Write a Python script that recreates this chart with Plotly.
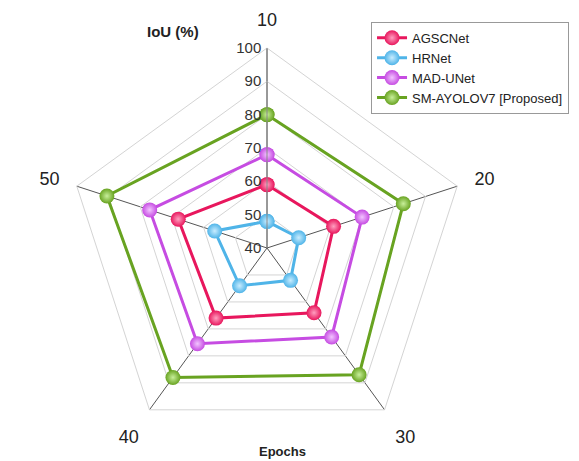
import plotly.graph_objects as go

epochs = ["10", "20", "30", "40", "50"]
agscnet = [59, 61, 64, 66, 68]
hrnet = [48, 50, 52, 54, 56.5]
mad_unet = [68, 70, 73, 75.5, 77]
sm_ayolov7 = [80, 83, 87, 88, 90.5]

series = [
    ("AGSCNet", agscnet, "#e8175d", "#ff9fc0"),
    ("HRNet", hrnet, "#4fb4e8", "#c8ecff"),
    ("MAD-UNet", mad_unet, "#c64ce2", "#f2c4ff"),
    ("SM-AYOLOV7 [Proposed]", sm_ayolov7, "#68a321", "#c8ef9a"),
]

fig = go.Figure()
for name, vals, col, light in series:
    fig.add_trace(go.Scatterpolar(
        r=vals + vals[:1],
        theta=epochs + epochs[:1],
        name=name,
        mode="lines+markers",
        line=dict(color=col, width=3),
        marker=dict(size=15, color=col,
                    gradient=dict(type="radial", color=light)),
    ))

W, H = 579, 461
# page body has an 8px margin; positions below are in figure pixels
cx, cy, R = 259, 240, 200
fig.update_layout(
    width=W, height=H,
    margin=dict(l=0, r=0, t=0, b=0),
    paper_bgcolor="white",
    font=dict(family="Arial, Liberation Sans, sans-serif", color="#222"),
    polar=dict(
        domain=dict(x=[(cx - R) / W, (cx + R) / W],
                    y=[(H - (cy + R)) / H, (H - (cy - R)) / H]),
        gridshape="linear",
        bgcolor="white",
        radialaxis=dict(range=[40, 100], dtick=10, angle=90,
                        tickangle=90, side="counterclockwise",
                        showline=True, linecolor="#888", linewidth=1,
                        gridcolor="#d4d4d4", gridwidth=1,
                        tickfont=dict(size=15, color="#333"),
                        ticks=""),
        angularaxis=dict(direction="clockwise", rotation=90,
                         showline=True, linecolor="#d4d4d4", linewidth=1,
                         gridcolor="#555", gridwidth=1,
                         ticks="outside", ticklen=14,
                         tickcolor="rgba(0,0,0,0)",
                         tickfont=dict(size=18, color="#222")),
    ),
    legend=dict(x=0.627, y=0.97, xanchor="left", yanchor="top",
                bgcolor="white", bordercolor="#999", borderwidth=1,
                font=dict(size=13, color="#222"),
                tracegroupgap=0, itemwidth=30),
    annotations=[
        dict(text="<b>IoU (%)</b>", x=165 / W, y=1 - 24 / H, xref="paper", yref="paper",
             xanchor="center", yanchor="middle",
             showarrow=False, font=dict(size=15, color="#222")),
        dict(text="<b>Epochs</b>", x=274 / W, y=1 - 443 / H, xref="paper", yref="paper",
             xanchor="center", yanchor="middle",
             showarrow=False, font=dict(size=13, color="#222")),
    ],
)

fig.write_html("out.html")
